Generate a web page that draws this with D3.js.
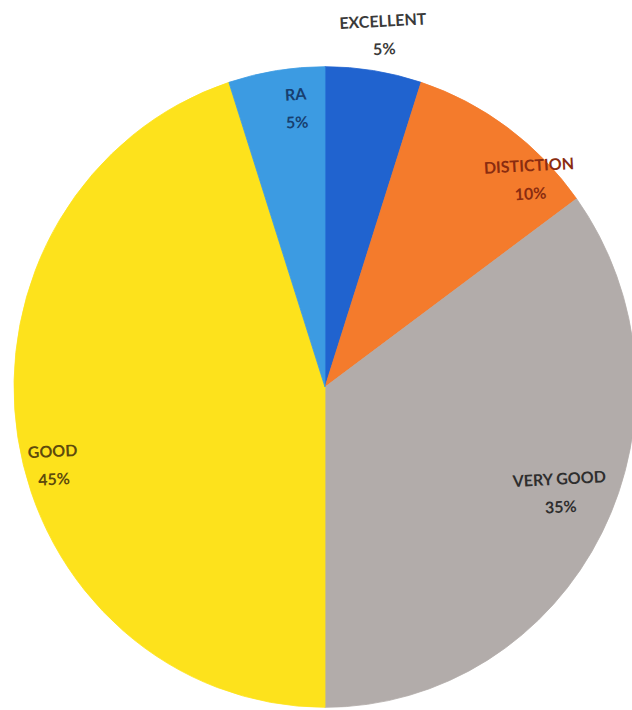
<!DOCTYPE html>
<html>
<head>
<meta charset="utf-8">
<script src="https://cdn.jsdelivr.net/npm/d3@7"></script>
<style>
  html, body { margin: 0; padding: 0; background: #ffffff; }
  svg { display: block; }
</style>
</head>
<body>
<svg id="chart" width="632" height="710"></svg>
<script>
// ---- data ----
const categories = ["EXCELLENT", "DISTICTION", "VERY GOOD", "GOOD", "RA"];
const values = [5, 10, 35, 45, 5];
const percentLabels = ["5%", "10%", "35%", "45%", "5%"];
const sliceColors = ["#2063cf", "#f47b2c", "#b2acaa", "#fde21c", "#3c9be2"];
const textColors = ["#3a3a3a", "#8a2c10", "#2e2e2e", "#5e4a0c", "#173f70"];

// ---- layout (label placement: polar angle in degrees, radius factor) ----
const W = 632, H = 710;
const cx = 325, cy = 387, R = 311, yScale = 1.03;
const labelPolar = {
  "EXCELLENT": [9.6, 1.125],
  "DISTICTION": [45, 0.93],
  "VERY GOOD": [113, 0.82],
  "GOOD": [255, 0.905],
  "RA": [354, 0.885]
};

const svg = d3.select("#chart");
const g = svg.append("g").attr("transform", `translate(${cx},${cy}) scale(1,${yScale})`);

const rows = categories.map((c, i) => ({ cat: c, value: values[i], pct: percentLabels[i], color: sliceColors[i], tcolor: textColors[i] }));
const pie = d3.pie().sort(null).value(d => d.value);
const arc = d3.arc().innerRadius(0).outerRadius(R);
const arcs = pie(rows);

g.selectAll("path.slice")
  .data(arcs)
  .join("path")
  .attr("class", "slice")
  .attr("d", arc)
  .attr("fill", d => d.data.color)
  .attr("stroke", d => d.data.color)
  .attr("stroke-width", 0.8);

const labels = svg.append("g")
  .selectAll("g.lbl")
  .data(arcs)
  .join("g")
  .attr("class", "lbl")
  .attr("transform", d => {
    const [deg, f] = labelPolar[d.data.cat];
    const a = deg * Math.PI / 180;
    const x = cx + Math.sin(a) * R * f;
    const y = cy - Math.cos(a) * R * f * yScale;
    return `translate(${x},${y}) rotate(-3)`;
  });

labels.append("text")
  .attr("text-anchor", "middle")
  .attr("y", -5)
  .attr("font-family", "Lato, 'Open Sans', sans-serif")
  .attr("font-weight", "bold")
  .attr("font-size", 16)
  .attr("fill", d => d.data.tcolor)
  .text(d => d.data.cat);

labels.append("text")
  .attr("text-anchor", "middle")
  .attr("y", 23)
  .attr("font-family", "Lato, 'Open Sans', sans-serif")
  .attr("font-weight", "bold")
  .attr("font-size", 16)
  .attr("fill", d => d.data.tcolor)
  .text(d => d.data.pct);
</script>
</body>
</html>
